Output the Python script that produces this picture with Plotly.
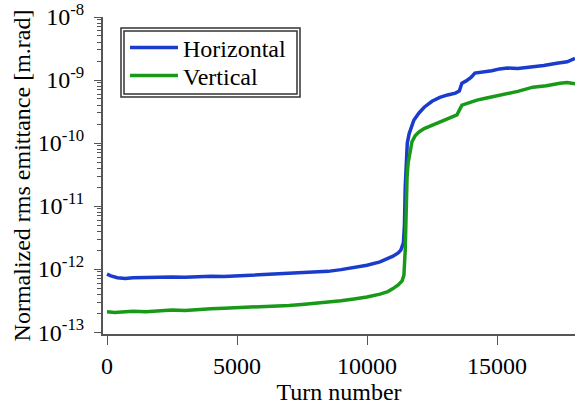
import plotly.graph_objects as go

# Data (turn number, normalized rms emittance in m.rad)
h_turns = [0, 150, 400, 700, 1000, 1500, 2000, 2500, 3000, 3500, 4000, 4500, 5000, 5500, 6000,
           6500, 7000, 7500, 8000, 8500, 9000, 9500, 10000, 10500, 10800, 11000, 11200, 11300,
           11400, 11440, 11470, 11500, 11550, 11620, 11700, 11800, 12000, 12200, 12500, 12800,
           13100, 13400, 13550, 13650, 13800, 14000, 14150, 14400, 14800, 15100, 15400, 15800,
           16300, 16800, 17300, 17700, 18000]
h_emit = [8.3e-13, 7.8e-13, 7.3e-13, 7.1e-13, 7.3e-13, 7.4e-13, 7.3e-13, 7.5e-13, 7.4e-13,
          7.6e-13, 7.7e-13, 7.6e-13, 7.8e-13, 8.0e-13, 8.0e-13, 8.3e-13, 8.4e-13, 8.7e-13,
          8.9e-13, 9.2e-13, 9.8e-13, 1.05e-12, 1.15e-12, 1.3e-12, 1.45e-12, 1.6e-12, 1.8e-12,
          2.0e-12, 2.6e-12, 5e-12, 2e-11, 5.4e-11, 1e-10, 1.4e-10, 1.8e-10, 2.3e-10, 3.0e-10,
          3.7e-10, 4.6e-10, 5.3e-10, 5.8e-10, 6.2e-10, 6.7e-10, 8.9e-10, 9.6e-10, 1.1e-9, 1.29e-9,
          1.33e-9, 1.4e-9, 1.5e-9, 1.55e-9, 1.52e-9, 1.6e-9, 1.7e-9, 1.85e-9, 1.95e-9, 2.2e-9]

v_turns = [0, 300, 700, 1000, 1500, 2000, 2500, 3000, 3500, 4000, 4500, 5000, 5500, 6000,
           6500, 7000, 7500, 8000, 8500, 9000, 9500, 10000, 10500, 10800, 11000, 11200, 11350,
           11420, 11470, 11500, 11540, 11580, 11650, 11730, 11850, 12000, 12200, 12540, 12900,
           13200, 13460, 13650, 13800, 14000, 14230, 14600, 15000, 15380, 15800, 16380, 16900,
           17420, 17700, 18000]
v_emit = [2.1e-13, 2.05e-13, 2.1e-13, 2.15e-13, 2.1e-13, 2.2e-13, 2.25e-13, 2.2e-13, 2.3e-13,
          2.35e-13, 2.4e-13, 2.45e-13, 2.45e-13, 2.55e-13, 2.6e-13, 2.65e-13, 2.75e-13, 2.85e-13,
          3.0e-13, 3.15e-13, 3.35e-13, 3.6e-13, 4.0e-13, 4.4e-13, 4.9e-13, 5.6e-13, 6.5e-13,
          8e-13, 2e-12, 1.26e-11, 2.8e-11, 4.8e-11, 7.5e-11, 1.05e-10, 1.3e-10, 1.5e-10, 1.7e-10,
          1.93e-10, 2.2e-10, 2.5e-10, 2.8e-10, 4.0e-10, 4.2e-10, 4.5e-10, 4.8e-10, 5.2e-10,
          5.6e-10, 6.2e-10, 6.6e-10, 7.7e-10, 8.1e-10, 8.9e-10, 9.1e-10, 8.7e-10]

x_tickvals = [0, 5000, 10000, 15000]
x_ticktext = ["0", "5000", "10000", "15000"]
y_tickvals = [1e-13, 1e-12, 1e-11, 1e-10, 1e-9, 1e-8]
y_ticktext = ["10<sup>-13</sup>", "10<sup>-12</sup>", "10<sup>-11</sup>",
              "10<sup>-10</sup>", "10<sup>-9</sup>", "10<sup>-8</sup>"]

FONT = "Liberation Serif, Times New Roman, serif"
W, H = 575, 411
L, R, T, B = 103, 0, 17, 77
BLUE, GREEN = "#1a3ccc", "#189a18"

def px(x):
    return (x - L) / (W - L - R)

def py(y):
    return (H - B - y) / (H - T - B)

fig = go.Figure()
fig.add_trace(go.Scatter(x=h_turns, y=h_emit, mode="lines", name="Horizontal",
                         line=dict(color=BLUE, width=3.5), legend="legend"))
fig.add_trace(go.Scatter(x=v_turns, y=v_emit, mode="lines", name="Vertical",
                         line=dict(color=GREEN, width=3.5), legend="legend2"))

leg_common = dict(xanchor="left", yanchor="middle", bgcolor="rgba(0,0,0,0)", borderwidth=0,
                  font=dict(family=FONT, size=24, color="black"), itemwidth=48)

fig.update_layout(
    width=W, height=H,
    margin=dict(l=L, r=R, t=T, b=B),
    paper_bgcolor="white", plot_bgcolor="white",
    font=dict(family=FONT, size=24, color="black"),
    showlegend=True,
    legend=dict(x=px(125), y=py(48), **leg_common),
    legend2=dict(x=px(125), y=py(76), **leg_common),
    xaxis=dict(range=[-154, 18000], tickvals=x_tickvals, ticktext=x_ticktext,
               ticks="outside", ticklen=9, tickcolor="#555", showline=True, linecolor="#555",
               linewidth=2, showgrid=False, zeroline=False, automargin=False,
               title=dict(text="Turn number", font=dict(family=FONT, size=24), standoff=4)),
    yaxis=dict(type="log", range=[-13.03, -8.0], tickvals=y_tickvals, ticktext=y_ticktext,
               ticks="outside", ticklen=7, tickcolor="#555", showline=True,
               linecolor="#555", linewidth=2, showgrid=False, zeroline=False, automargin=False,
               ticklabelstandoff=5,
               minor=dict(ticks="outside", ticklen=4, tickcolor="#555", dtick="D1", showgrid=False),
               title=dict(text="Normalized rms emittance [m.rad]",
                          font=dict(family=FONT, size=24), standoff=0)),
    shapes=[
        dict(type="rect", xref="paper", yref="paper", x0=px(121), x1=px(300), y0=py(97), y1=py(28),
             line=dict(color="#333", width=1.5)),
        dict(type="rect", xref="paper", yref="paper", x0=px(124), x1=px(297), y0=py(94), y1=py(31),
             line=dict(color="#333", width=1.5)),
    ],
)

fig.write_html("out.html", config={"displayModeBar": False},
               post_script="document.body.style.margin='0';")
